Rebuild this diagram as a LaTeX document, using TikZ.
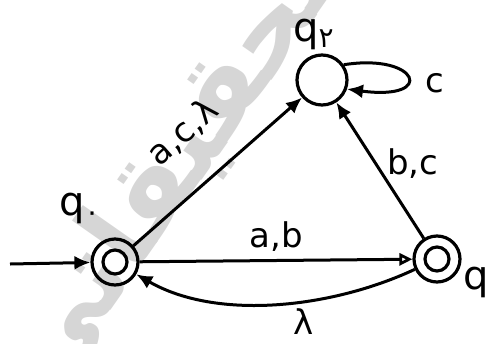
\documentclass[tikz,border=0pt]{standalone}
\usepackage{fontspec}
\setmainfont{DejaVu Sans}
\newfontfamily\wmfont[Script=Arabic]{DejaVu Sans}
\TeXXeTstate=1
\usetikzlibrary{arrows.meta}
\tikzset{
  st/.style={circle, draw, line width=1.6pt, minimum size=23pt, inner sep=0pt},
  acc/.style={st, path picture={\draw[line width=1.6pt] (path picture bounding box.center) circle (6pt);}},
  arr/.style={line width=1.5pt, -{Latex[length=8pt,width=7pt]}},
  openarr/.style={line width=1.5pt, -{Triangle[open,length=6.5pt,width=6pt,line width=1.4pt]}},
  lab/.style={font=\fontsize{17}{17}\selectfont, inner sep=1pt},
  slab/.style={font=\fontsize{20}{20}\selectfont, inner sep=0pt},
  wm/.style={text=black!16, font=\fontsize{54}{54}\selectfont, inner sep=0pt}
}
\newcommand{\fadigit}[1]{\textsubscript{\wmfont #1}}
\begin{document}
\begin{tikzpicture}[x=0.5pt,y=-0.5pt]
\useasboundingbox (0,0) rectangle (492,343);
\node[wm, rotate=55] (wm) at (168,172) {\wmfont\bfseries\beginR تحقیقاتی\endR};
\node[acc] (q0) at (115,262) {};
\node[acc] (q1) at (437,259) {};
\node[st, minimum size=25pt] (q2) at (322,80) {};
\coordinate (s) at (10,264);
\node[slab] (l0) at (80,208) {q\fadigit{۰}};
\node[slab] (l2) at (314,34) {q\fadigit{۲}};
\node[slab] (l1) at (484,282) {q\fadigit{۱}};
\draw[arr] (s) -- (q0);
\draw[arr] (q0) -- node[lab, pos=0.5, sloped, above=17pt] {a,c,λ} (q2);
\draw[openarr] (q0) -- node[lab, above=3pt] {a,b} (q1);
\draw[arr] (q1) to[out=205, in=-30, looseness=0.85] node[lab, pos=0.4, below=2pt] {λ} (q0);
\draw[arr] (q1) -- node[lab, pos=0.55, right=4pt] {b,c} (q2);
\draw[arr] (q2.35) .. controls +(75,-12) and +(90,12) .. node[lab, pos=0.62, right=8pt] {c} (q2.-20);
\end{tikzpicture}
\end{document}
